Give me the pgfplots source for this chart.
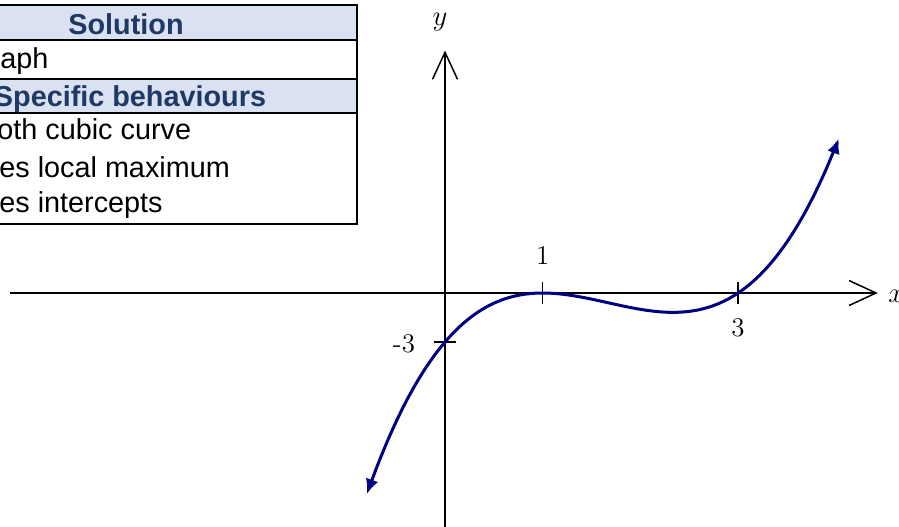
\documentclass[border=0pt]{standalone}
\usepackage{pgfplots}
\pgfplotsset{compat=1.18}
\usepackage{fontspec}
\setsansfont{Liberation Sans}
\usetikzlibrary{arrows.meta}
\definecolor{curvenavy}{HTML}{000080}
\definecolor{hdrfill}{HTML}{D9E1F2}
\definecolor{hdrtext}{HTML}{1F3864}
\begin{document}
\begin{tikzpicture}
\useasboundingbox (0,0) rectangle (449.5pt,-263pt);
\clip (0,0) rectangle (449.5pt,-263pt);
\begin{scope}[x=0.5pt,y=-0.5pt]
  \fill[hdrfill] (-120,5) rectangle (357,40);
  \fill[hdrfill] (-120,79) rectangle (357,113);
  \draw[line width=1pt] (-120,5) -- (357,5) -- (357,224) -- (-120,224);
  \draw[line width=1pt] (-120,40) -- (357,40);
  \draw[line width=1pt] (-120,79) -- (357,79);
  \draw[line width=1pt] (-120,113) -- (357,113);
  \begin{scope}[every node/.style={inner sep=0pt, font=\sffamily\fontsize{14.4pt}{17pt}\selectfont}]
    \node[anchor=base, text=hdrtext, font=\sffamily\bfseries\fontsize{14.4pt}{17pt}\selectfont] at (126,34) {Solution};
    \node[anchor=base west] at (0,68) {aph};
    \node[anchor=base, text=hdrtext, font=\sffamily\bfseries\fontsize{14.4pt}{17pt}\selectfont] at (130,106) {Specific behaviours};
    \node[anchor=base west] at (-3,139) {oth cubic curve};
    \node[anchor=base west] at (-1,177) {es local maximum};
    \node[anchor=base west] at (-1,212) {es intercepts};
  \end{scope}
\end{scope}
\begin{axis}[
  at={(222.5pt,-146.5pt)}, anchor=origin,
  x=48.85pt, y=8.165pt,
  xmin=-4.45, xmax=4.43, ymin=-14.4, ymax=14.85,
  axis lines=middle,
  axis line style={line width=0.75pt, -{Straight Barb[length=13.5pt,width=12.5pt,line width=0.75pt]}},
  xtick={1,3}, ytick={-3},
  xticklabels={}, yticklabels={},
  tick align=center,
  major tick length=11pt,
  tick style={line width=0.75pt, black},
  clip=false,
]
\addplot[curvenavy, line width=1.5pt, smooth,
  {Latex[length=7.5pt,width=6.5pt]}-{Latex[length=7.5pt,width=6.5pt]}]
  coordinates {
  (-0.8,-12.312) (-0.7,-10.693) (-0.6,-9.216) (-0.5,-7.875) (-0.4,-6.664)
  (-0.3,-5.577) (-0.2,-4.608) (-0.1,-3.751) (0,-3) (0.1,-2.349) (0.2,-1.792)
  (0.3,-1.323) (0.4,-0.936) (0.5,-0.625) (0.6,-0.384) (0.7,-0.207) (0.8,-0.088)
  (0.9,-0.021) (1.0,0) (1.1,-0.019) (1.2,-0.072) (1.3,-0.153) (1.4,-0.256)
  (1.5,-0.375) (1.6,-0.504) (1.7,-0.637) (1.8,-0.768) (1.9,-0.891) (2.0,-1)
  (2.1,-1.089) (2.2,-1.152) (2.3,-1.183) (2.4,-1.176) (2.5,-1.125) (2.6,-1.024)
  (2.7,-0.867) (2.8,-0.648) (2.9,-0.361) (3.0,0) (3.1,0.441) (3.2,0.968)
  (3.3,1.587) (3.4,2.304) (3.5,3.125) (3.6,4.056) (3.7,5.103) (3.8,6.272)
  (3.9,7.569) (4.0,9) (4.03,9.456)
  };
\node[font=\fontsize{13.5pt}{15pt}\selectfont] at (axis cs:1,2.27) {1};
\node[font=\fontsize{13.5pt}{15pt}\selectfont] at (axis cs:3,-2.14) {3};
\node[font=\fontsize{13.5pt}{15pt}\selectfont] at (axis cs:-0.42,-3.12) {-3};
\node[font=\fontsize{14pt}{16pt}\selectfont] at (axis cs:-0.05,16.6) {$y$};
\node[font=\fontsize{14pt}{16pt}\selectfont] at (axis cs:4.62,-0.18) {$x$};
\end{axis}
\end{tikzpicture}
\end{document}
